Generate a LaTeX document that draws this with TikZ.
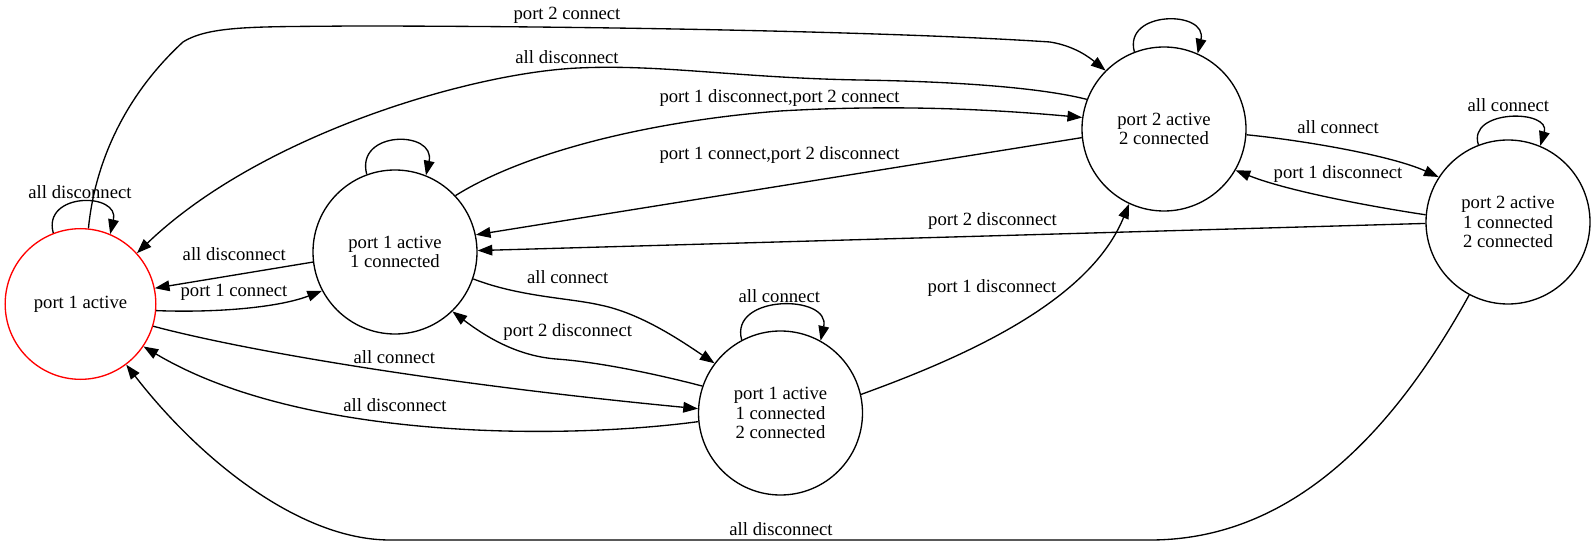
\documentclass[tikz,border=0pt]{standalone}
\usepackage{fontspec}
\setmainfont{Liberation Serif}
\usetikzlibrary{arrows.meta}

\begin{document}
\begin{tikzpicture}[x=0.75pt, y=-0.75pt]
    \tikzset{
      state/.style={circle, draw=black, line width=1pt, minimum size=123pt, inner sep=0pt, align=center, font=\fontsize{14}{14.8}\selectfont},
      edge/.style={line width=1pt, -{Triangle[length=11pt, width=8pt]}},
      lbl/.style={font=\fontsize{14}{14.8}\selectfont, inner sep=0pt}
    }
    \useasboundingbox (0,0) rectangle (1596,545);

    % states
    \node[state, draw=red, minimum size=113pt] (A) at (80.5,304) {port 1 active};
    \node[state] (B) at (395,252) {port 1 active\\1 connected};
    \node[state] (C) at (780.5,413) {port 1 active\\1 connected\\2 connected};
    \node[state] (D) at (1164,129) {port 2 active\\2 connected};
    \node[state] (E) at (1508,222) {port 2 active\\1 connected\\2 connected};

    % from port 1 active
    \draw[edge] (A.111.7) .. controls (42,192) and (120,192) .. (A.67.8);
    \node[lbl] (lAA) at (80,192) {all disconnect};
    \draw[edge] (A.84) .. controls (94,170) and (120,100) .. (183,42) .. controls (210,25) and (260,27) .. (350,26) .. controls (600,26) and (900,32) .. (1050,42) .. controls (1075,46) and (1090,58) .. (D.135);
    \node[lbl] (lAD) at (567,15) {port 2 connect};
    \draw[edge] (A.-5.8) .. controls (220,313) and (280,307) .. (B.208.9);
    \node[lbl] (lAB) at (234,292.7) {port 1 connect};
    \draw[edge] (A.-17.6) .. controls (250,352) and (450,385) .. (C.177.6);
    \node[lbl] (lAC) at (394.3,357.3) {all connect};

    % from port 1 active, 1 connected
    \draw[edge] (B.110.6) .. controls (355,130) and (436,130) .. (B.68.7);
    \draw[edge] (B.187.8) -- (A.12.7);
    \node[lbl] (lBA) at (234.3,254) {all disconnect};
    \draw[edge] (B.43.5) .. controls (520,155) and (640,122) .. (780,111) .. controls (900,104) and (1000,110) .. (D.172.4);
    \node[lbl] (lBD) at (779.5,98) {port 1 disconnect,port 2 connect};
    \draw[edge] (B.-19.7) .. controls (520,297) and (570,298) .. (600,305) .. controls (640,313) and (680,340) .. (C.143.2);
    \node[lbl] (lBC) at (567.7,276.7) {all connect};

    % from port 1 active, 1 connected, 2 connected
    \draw[edge] (C.118.6) .. controls (729,294) and (831,294) .. (C.61.8);
    \node[lbl] (lCC) at (779.3,296) {all connect};
    \draw[edge] (C.161.8) .. controls (660,375) and (600,362) .. (556,359) .. controls (520,356) and (490,340) .. (B.-46);
    \node[lbl] (lCB) at (567.7,332) {port 2 disconnect};
    \draw[edge] (C.186.7) .. controls (560,440) and (300,440) .. (A.-34.2);
    \node[lbl] (lCA) at (395,405) {all disconnect};
    \draw[edge] (C.13.2) .. controls (970,355) and (1090,300) .. (D.245.4);
    \node[lbl] (lCD) at (992,288.3) {port 1 disconnect};

    % from port 2 active, 2 connected
    \draw[edge] (D.111.5) .. controls (1123,10) and (1208,10) .. (D.66.4);
    \draw[edge] (D.159.7) .. controls (1050,90) and (980,82) .. (860,80) .. controls (740,78) and (660,64) .. (578,68) .. controls (470,73) and (260,135) .. (A.42.9);
    \node[lbl] (lDA) at (567,57) {all disconnect};
    \draw[edge] (D.186.5) -- (B.12.4);
    \node[lbl] (lDB) at (779.5,155) {port 1 connect,port 2 disconnect};
    \draw[edge] (D.-4.2) .. controls (1300,140) and (1390,155) .. (E.147.9);
    \node[lbl] (lDE) at (1338,126.7) {all connect};

    % from port 2 active, 1 connected, 2 connected
    \draw[edge] (E.111.3) .. controls (1467,109) and (1551,109) .. (E.67.4);
    \node[lbl] (lEE) at (1508.3,105) {all connect};
    \draw[edge] (E.175.1) .. controls (1380,208) and (1290,192) .. (D.-30.7);
    \node[lbl] (lED) at (1338,174) {port 1 disconnect};
    \draw[edge] (E.181.4) -- (B.1.9);
    \node[lbl] (lEB) at (992.5,221) {port 2 disconnect};
    \draw[edge] (E.242.5) .. controls (1400,420) and (1300,540) .. (1150,540) -- (390,540) .. controls (300,540) and (200,460) .. (A.-53.7);
    \node[lbl] (lEA) at (781,529) {all disconnect};
\end{tikzpicture}
\end{document}
